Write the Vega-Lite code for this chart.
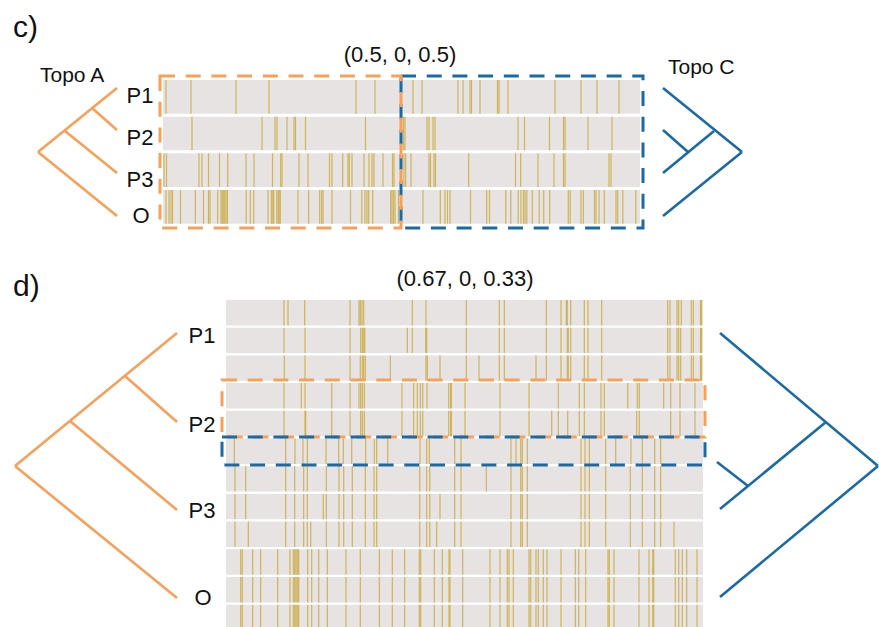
{
  "$schema": "https://vega.github.io/schema/vega-lite/v6.json",
  "width": 879,
  "height": 627,
  "padding": 0,
  "autosize": {"type": "none"},
  "background": "white",
  "config": {"view": {"stroke": null}},
  "datasets": {
    "rows": [
      {"r": "c1", "x0": 163, "x1": 640, "y0": 80, "y1": 113.7},
      {"r": "c2", "x0": 163, "x1": 640, "y0": 116.7, "y1": 150.3},
      {"r": "c3", "x0": 163, "x1": 640, "y0": 153.3, "y1": 187},
      {"r": "c4", "x0": 163, "x1": 640, "y0": 190, "y1": 223.7},
      {"r": "d1", "x0": 226, "x1": 703, "y0": 300, "y1": 325.4},
      {"r": "d2", "x0": 226, "x1": 703, "y0": 327.7, "y1": 353.1},
      {"r": "d3", "x0": 226, "x1": 703, "y0": 355.4, "y1": 380.8},
      {"r": "d4", "x0": 226, "x1": 703, "y0": 383.1, "y1": 408.5},
      {"r": "d5", "x0": 226, "x1": 703, "y0": 410.8, "y1": 436.2},
      {"r": "d6", "x0": 226, "x1": 703, "y0": 438.5, "y1": 463.9},
      {"r": "d7", "x0": 226, "x1": 703, "y0": 466.2, "y1": 491.6},
      {"r": "d8", "x0": 226, "x1": 703, "y0": 493.9, "y1": 519.3},
      {"r": "d9", "x0": 226, "x1": 703, "y0": 521.6, "y1": 547},
      {"r": "d10", "x0": 226, "x1": 703, "y0": 549.3, "y1": 574.7},
      {"r": "d11", "x0": 226, "x1": 703, "y0": 577, "y1": 602.4},
      {"r": "d12", "x0": 226, "x1": 703, "y0": 604.7, "y1": 627}
    ],
    "ticks": [
      {"r": "c1", "xs": [166, 191, 236, 269, 356, 375, 413, 422, 458, 463, 470, 471.5, 480, 497.5, 499, 508, 555, 581, 597, 619]},
      {"r": "c2", "xs": [192, 262, 275, 277, 287, 294, 295.5, 305.5, 365.5, 403.5, 405, 427, 429, 433, 435, 518, 524.5, 549.5, 563.5, 565, 588, 612]},
      {"r": "c3", "xs": [164, 166.5, 199, 202, 208.5, 219.5, 227.7, 246, 254, 272.5, 280.7, 282, 299, 308, 329.5, 332, 342.7, 348, 349.3, 352, 364, 369, 372, 374, 383, 392.5, 394, 404, 405.7, 411, 429, 430.5, 434, 435.5, 468.7, 515.5, 520.7, 538, 554, 563.5, 565, 609, 611]},
      {"r": "c4", "xs": [166, 169, 171, 172.5, 180.5, 195.3, 203.5, 208.5, 210, 217.7, 221, 222.2, 223.3, 224.7, 226, 227.4, 246.2, 250.3, 253.7, 268, 271.3, 272.8, 273.7, 276.8, 278.2, 279.2, 280.3, 298, 308.7, 319.7, 321.7, 323, 332, 350.5, 361.8, 365, 367, 368.7, 372.7, 390.7, 392, 393.5, 395, 398.5, 423, 440.3, 445, 447.5, 450, 470.5, 486.7, 489.5, 505.8, 510.8, 518.2, 521, 523.5, 525, 526.8, 532.3, 539.2, 543.7, 549.7, 568.3, 570.2, 581, 583.3, 594.5, 596, 599, 604.3, 616, 617.7, 622.8, 635.8]},
      {"r": "d1", "xs": [284, 288, 304.7, 350, 359, 360.3, 362, 363.7, 412.3, 426, 466.3, 499.3, 504.3, 546.3, 561, 566.3, 567.3, 570.7, 584.3, 588, 601.7, 667.7, 670, 677, 678.7, 681.3, 691.3, 693.3, 700.5, 701.5]},
      {"r": "d2", "xs": [284, 305, 350, 360.7, 362.3, 363.7, 364.7, 407.3, 412.3, 425.7, 426.7, 466.3, 499.3, 504.3, 546.3, 561, 567.3, 568.3, 570.7, 584.3, 588, 601.7, 667.7, 670, 677, 678.7, 680.7, 691.3, 693.3, 700.5, 701.5]},
      {"r": "d3", "xs": [284.3, 305, 350, 360.3, 362.3, 363.7, 365.3, 390.3, 426, 427.3, 440, 466.3, 479, 499.3, 504.3, 536, 546.3, 561, 567.3, 568.3, 570.7, 584.3, 588, 601.7, 667.7, 670, 677, 678.7, 680.7, 691.3, 693.3, 700.5, 701.5]},
      {"r": "d4", "xs": [284, 301.3, 305, 331.7, 350, 359, 360.7, 362.3, 364.3, 402, 413.7, 417.3, 420.3, 422.7, 427, 448.7, 450.7, 451.3, 465, 500, 529, 558.3, 579.3, 584.3, 601, 604.3, 627.7, 637.3, 639.3, 663.7, 670.7, 680, 695]},
      {"r": "d5", "xs": [284, 305, 305.7, 331.7, 350, 360.7, 362.3, 364.3, 402, 413.7, 417.3, 420.3, 422.7, 448.7, 450.7, 451.3, 465, 500, 529, 551.7, 558.3, 567.7, 579.3, 584.3, 601, 604.3, 636.7, 639.3, 670.7, 680, 695]},
      {"r": "d6", "xs": [234.3, 285.7, 295, 303, 307.3, 326, 338.7, 343.3, 351.7, 365.7, 374.3, 376.7, 387.7, 420, 426.7, 429.3, 454.7, 461, 511, 516, 520.7, 522.3, 527.3, 581, 585, 589.3, 605.7, 615.7, 631, 642.3, 654.7, 660.7]},
      {"r": "d7", "xs": [235, 245.7, 285.7, 294.7, 303.7, 307.3, 326.3, 339, 343.7, 352.3, 365.3, 374, 376.7, 419.7, 426.7, 429.7, 454.7, 461, 486.3, 511, 520.7, 522.3, 527.3, 581, 585, 589.3, 605.7, 630.3, 642.3, 654.7, 660.7]},
      {"r": "d8", "xs": [235, 245.7, 285.7, 294.7, 303.7, 307.3, 323.3, 326.3, 339, 343.7, 352.3, 365.3, 374, 376.7, 419.7, 426.7, 429.7, 440, 454.7, 461, 511, 520.7, 522.3, 527.3, 581, 585, 589.3, 605.7, 630.3, 642.3, 654.7, 660.7]},
      {"r": "d9", "xs": [235, 248.3, 285.7, 294.7, 303.7, 307.3, 310.7, 326.3, 339, 343.7, 352.3, 365.3, 374, 376.7, 419.7, 426.7, 429.7, 436.7, 454.7, 461, 511, 520.7, 522.3, 527.3, 581, 585, 589.3, 605.7, 630.3, 642.3, 654.7, 660.7, 674]},
      {"r": "d10", "xs": [240.7, 242.3, 252.7, 260.7, 277.7, 290, 293.3, 294.7, 296, 297.3, 298.7, 307.7, 311.7, 318.7, 327.3, 346, 360.3, 379.3, 392.3, 404.7, 419.3, 420.7, 434.3, 442.3, 449, 450, 462.7, 490, 500, 507.3, 509, 513.3, 529, 530.7, 536, 538.3, 543.3, 547, 561, 575.3, 578.7, 585.7, 608, 609.3, 614, 639, 649, 652.7, 653.7, 675.3, 678.7, 682.3, 686.7, 697]},
      {"r": "d11", "xs": [240.7, 242.3, 252.7, 260.7, 277.7, 290, 293.3, 294.7, 296, 297.3, 298.7, 307.7, 311.7, 318.7, 327.3, 346, 360.3, 379.3, 392.3, 404.7, 419.3, 420.7, 434.3, 442.3, 449, 450, 462.7, 490, 500, 507.3, 509, 513.3, 529, 530.7, 536, 538.3, 543.3, 547, 561, 575.3, 578.7, 585.7, 608, 609.3, 614, 639, 649, 652.7, 653.7, 675.3, 678.7, 682.3, 686.7, 697]},
      {"r": "d12", "xs": [240.7, 242.3, 252.7, 260.7, 277.7, 290, 293.3, 294.7, 296, 297.3, 298.7, 307.7, 311.7, 318.7, 327.3, 346, 360.3, 379.3, 392.3, 404.7, 419.3, 420.7, 434.3, 442.3, 449, 450, 462.7, 490, 500, 507.3, 509, 513.3, 529, 530.7, 536, 538.3, 543.3, 547, 561, 575.3, 578.7, 585.7, 608, 609.3, 614, 639, 649, 652.7, 653.7, 675.3, 678.7, 682.3, 686.7, 697]}
    ],
    "boxes": [
      {"topo": "C", "x0": 401, "x1": 643, "y0": 76, "y1": 228},
      {"topo": "A", "x0": 160, "x1": 401, "y0": 76, "y1": 228},
      {"topo": "A", "x0": 222, "x1": 705, "y0": 380, "y1": 437},
      {"topo": "C", "x0": 222, "x1": 705, "y0": 437, "y1": 465}
    ],
    "tree": [
      {"topo": "A", "x0": 38, "y0": 152, "x1": 117, "y1": 88},
      {"topo": "A", "x0": 38, "y0": 152, "x1": 117, "y1": 216},
      {"topo": "A", "x0": 65, "y0": 131, "x1": 117, "y1": 173},
      {"topo": "A", "x0": 92, "y0": 108, "x1": 117, "y1": 130},
      {"topo": "C", "x0": 663, "y0": 88, "x1": 742, "y1": 152},
      {"topo": "C", "x0": 663, "y0": 216, "x1": 742, "y1": 152},
      {"topo": "C", "x0": 714, "y0": 131, "x1": 663, "y1": 173},
      {"topo": "C", "x0": 688, "y0": 152, "x1": 663, "y1": 130},
      {"topo": "A", "x0": 15, "y0": 466, "x1": 177, "y1": 333},
      {"topo": "A", "x0": 15, "y0": 466, "x1": 177, "y1": 598},
      {"topo": "A", "x0": 70, "y0": 421, "x1": 177, "y1": 510},
      {"topo": "A", "x0": 125, "y0": 376, "x1": 177, "y1": 422},
      {"topo": "C", "x0": 720, "y0": 333, "x1": 878, "y1": 466},
      {"topo": "C", "x0": 720, "y0": 597, "x1": 878, "y1": 466},
      {"topo": "C", "x0": 826, "y0": 422, "x1": 720, "y1": 509},
      {"topo": "C", "x0": 748, "y0": 486, "x1": 717, "y1": 462}
    ],
    "panels": [
      {"label": "c)", "x": 13, "y": 37},
      {"label": "d)", "x": 13, "y": 296}
    ],
    "topos": [
      {"label": "Topo A", "x": 40, "y": 81.5},
      {"label": "Topo C", "x": 668, "y": 74}
    ],
    "centered": [
      {"label": "(0.5, 0, 0.5)", "x": 400, "y": 62},
      {"label": "(0.67, 0, 0.33)", "x": 465, "y": 285.7},
      {"label": "P1", "x": 140, "y": 103.3},
      {"label": "P2", "x": 140, "y": 145},
      {"label": "P3", "x": 140, "y": 186.7},
      {"label": "O", "x": 141, "y": 223.3},
      {"label": "P1", "x": 202, "y": 343.3},
      {"label": "P2", "x": 202, "y": 431.7},
      {"label": "P3", "x": 202, "y": 518},
      {"label": "O", "x": 203, "y": 605}
    ]
  },
  "layer": [
    {
      "data": {"name": "rows"},
      "mark": {"type": "rect", "color": "#e7e3e3"},
      "encoding": {
        "x": {"field": "x0", "type": "quantitative", "scale": {"domain": [0, 879], "nice": false, "zero": false}, "axis": null},
        "x2": {"field": "x1"},
        "y": {"field": "y0", "type": "quantitative", "scale": {"domain": [0, 627], "nice": false, "zero": false, "reverse": true}, "axis": null},
        "y2": {"field": "y1"}
      }
    },
    {
      "data": {"name": "ticks"},
      "transform": [
        {"flatten": ["xs"]},
        {"lookup": "r", "from": {"data": {"name": "rows"}, "key": "r", "fields": ["y0", "y1"]}}
      ],
      "mark": {"type": "rule", "color": "#c9a73a", "strokeWidth": 1.2, "opacity": 0.8},
      "encoding": {
        "x": {"field": "xs", "type": "quantitative", "axis": null},
        "y": {"field": "y0", "type": "quantitative", "axis": null},
        "y2": {"field": "y1"}
      }
    },
    {
      "data": {"name": "boxes"},
      "mark": {"type": "rect", "filled": false, "strokeWidth": 3, "strokeDash": [15, 10.7]},
      "encoding": {
        "x": {"field": "x0", "type": "quantitative", "axis": null},
        "x2": {"field": "x1"},
        "y": {"field": "y0", "type": "quantitative", "axis": null},
        "y2": {"field": "y1"},
        "stroke": {"field": "topo", "type": "nominal", "scale": {"domain": ["A", "C"], "range": ["#f6a05a", "#1a6aa6"]}, "legend": null}
      }
    },
    {
      "data": {"name": "tree"},
      "mark": {"type": "rule", "strokeWidth": 2.6},
      "encoding": {
        "x": {"field": "x0", "type": "quantitative", "axis": null},
        "x2": {"field": "x1"},
        "y": {"field": "y0", "type": "quantitative", "axis": null},
        "y2": {"field": "y1"},
        "stroke": {"field": "topo", "type": "nominal", "legend": null}
      }
    },
    {
      "data": {"name": "panels"},
      "mark": {"type": "text", "align": "left", "baseline": "alphabetic", "fontSize": 30, "font": "Liberation Sans", "color": "#111111"},
      "encoding": {
        "x": {"field": "x", "type": "quantitative", "axis": null},
        "y": {"field": "y", "type": "quantitative", "axis": null},
        "text": {"field": "label"}
      }
    },
    {
      "data": {"name": "topos"},
      "mark": {"type": "text", "align": "left", "baseline": "alphabetic", "fontSize": 21, "font": "Liberation Sans", "color": "#111111"},
      "encoding": {
        "x": {"field": "x", "type": "quantitative", "axis": null},
        "y": {"field": "y", "type": "quantitative", "axis": null},
        "text": {"field": "label"}
      }
    },
    {
      "data": {"name": "centered"},
      "mark": {"type": "text", "align": "center", "baseline": "alphabetic", "fontSize": 22, "font": "Liberation Sans", "color": "#111111"},
      "encoding": {
        "x": {"field": "x", "type": "quantitative", "axis": null},
        "y": {"field": "y", "type": "quantitative", "axis": null},
        "text": {"field": "label"}
      }
    }
  ]
}
